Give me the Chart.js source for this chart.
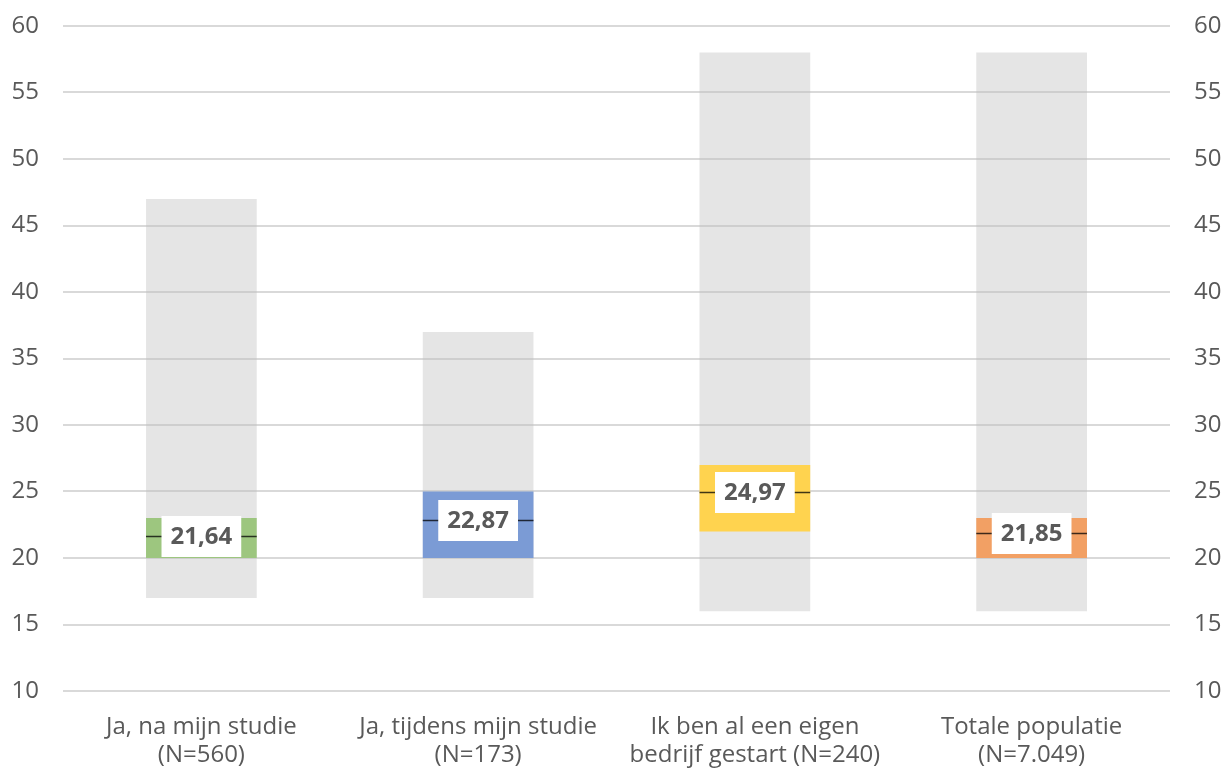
<!DOCTYPE html>
<html>
<head>
<meta charset="utf-8">
<script src="https://cdn.jsdelivr.net/npm/chart.js@4/dist/chart.umd.min.js"></script>
<style>
  body { margin: 0; background: #fff; }
  #wrap { width: 1225px; height: 771px; }
</style>
</head>
<body>
<div id="wrap"><canvas id="chartStart"></canvas></div>
<script>
var categorieen = [
    ["Ja, na mijn studie", "(N=560)"],
    ["Ja, tijdens mijn studie", "(N=173)"],
    ["Ik ben al een eigen", "bedrijf gestart (N=240)"],
    ["Totale populatie", "(N=7.049)"]
];
var minimum = [17, 17, 16, 16];
var maximum = [47, 37, 58, 58];
var kwartiel1 = [20, 20, 22, 20];
var kwartiel3 = [23, 25, 27, 23];
var gemiddelde = [21.64, 22.87, 24.97, 21.85];
var kleuren = ['#9dc67f', '#7b9bd5', '#ffd34f', '#f2a064'];

var tekstKleur = '#595959';
var font = "'Open Sans', sans-serif";

function bereik(a, b) {
    return a.map(function (v, i) { return [v, b[i]]; });
}

// vaste maten voor de y-assen, zodat het plotgebied gelijk ligt met het origineel
function yAsMaat(breedte) {
    return function (scale) {
        scale.width = breedte;
        scale.paddingTop = 26;
        scale.paddingBottom = 0;
    };
}

// gemiddelde-lijn en label met witte achtergrond
var gemiddeldePlugin = {
    id: 'gemiddelde',
    afterDatasetsDraw: function (chart) {
        var ctx = chart.ctx;
        var meta = chart.getDatasetMeta(0);
        var y = chart.scales.y;
        ctx.save();
        meta.data.forEach(function (bar, i) {
            var py = Math.round(y.getPixelForValue(gemiddelde[i])) + 0.5;
            var links = bar.x - bar.width / 2;
            var rechts = bar.x + bar.width / 2;
            ctx.strokeStyle = 'rgba(0,0,0,0.75)';
            ctx.lineWidth = 1.5;
            ctx.beginPath();
            ctx.moveTo(links, py);
            ctx.lineTo(rechts, py);
            ctx.stroke();

            var tekst = gemiddelde[i].toFixed(2).replace('.', ',');
            ctx.font = "bold 24px " + font;
            var w = ctx.measureText(tekst).width + 18;
            var h = 41;
            ctx.fillStyle = '#fff';
            ctx.fillRect(bar.x - w / 2, py - h / 2, w, h);
            ctx.fillStyle = tekstKleur;
            ctx.textAlign = 'center';
            ctx.textBaseline = 'middle';
            ctx.fillText(tekst, bar.x, py + 1);
        });
        ctx.restore();
    }
};

var ctx = document.getElementById('chartStart').getContext('2d');
var chart = new Chart(ctx, {
    type: 'bar',
    data: {
        labels: categorieen,
        datasets: [
            {
                label: 'Kwartielen',
                data: bereik(kwartiel1, kwartiel3),
                backgroundColor: kleuren,
                grouped: false,
                barPercentage: 1,
                categoryPercentage: 0.4
            },
            {
                label: 'Bereik',
                data: bereik(minimum, maximum),
                backgroundColor: 'rgba(191,191,191,0.4)',
                grouped: false,
                barPercentage: 1,
                categoryPercentage: 0.4
            }
        ]
    },
    options: {
        responsive: true,
        maintainAspectRatio: false,
        animation: false,
        layout: { padding: { top: 0, left: 10, right: 0, bottom: 0 } },
        plugins: {
            legend: { display: false },
            tooltip: { enabled: false }
        },
        scales: {
            x: {
                afterFit: function (scale) { scale.height = 80; },
                grid: { display: false },
                border: { display: false },
                ticks: {
                    color: tekstKleur,
                    font: { family: font, size: 24, lineHeight: 1.17 },
                    padding: 14,
                    maxRotation: 0
                }
            },
            y: {
                position: 'left',
                min: 10,
                max: 60,
                afterFit: yAsMaat(53),
                grid: { color: '#d9d9d9', lineWidth: 2, drawTicks: false },
                border: { display: false },
                ticks: {
                    stepSize: 5,
                    color: tekstKleur,
                    font: { family: font, size: 24 },
                    padding: 24
                }
            },
            y2: {
                position: 'right',
                min: 10,
                max: 60,
                afterFit: yAsMaat(55),
                grid: { display: false, drawTicks: false },
                border: { display: false },
                ticks: {
                    stepSize: 5,
                    color: tekstKleur,
                    font: { family: font, size: 24 },
                    padding: 24
                }
            }
        }
    },
    plugins: [gemiddeldePlugin]
});
</script>
</body>
</html>
